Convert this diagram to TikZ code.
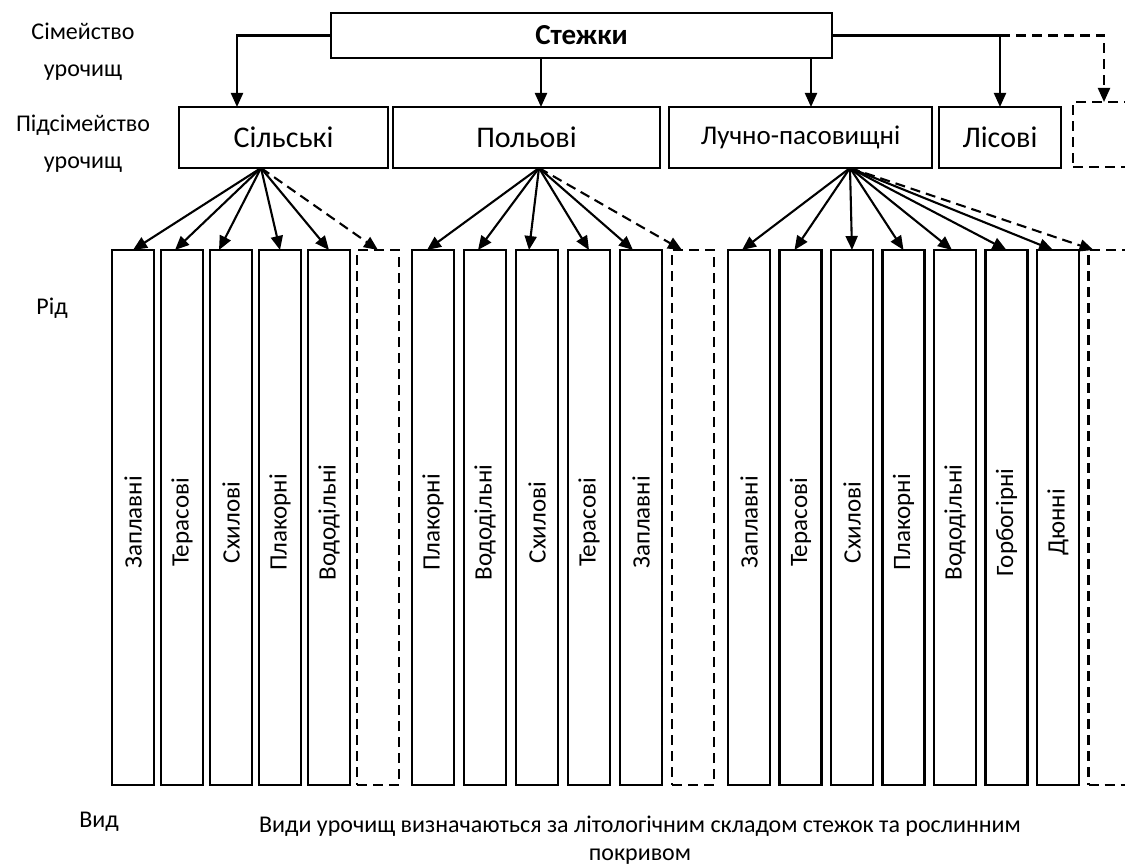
\documentclass[tikz,border=0pt]{standalone}
\usepackage{fontspec}
\setmainfont{Carlito}
\usetikzlibrary{arrows.meta,positioning}

\begin{document}
\begin{tikzpicture}[
                        x=1pt, y=-1pt,
                        ->,
                        >={Triangle[length=14pt,width=12pt]},
                        line width=2.1pt,
                        box/.style={draw, rectangle, inner sep=0pt, outer sep=0pt},
                        grp/.style={box, minimum height=61pt, font=\fontsize{30}{30}\selectfont},
                        kind/.style={box, minimum width=42pt, minimum height=535pt},
                        tag/.style={label={[yshift=-5pt, rotate=90, font=\fontsize{25}{25}\selectfont]center:#1}},
                        gap/.style={dash pattern=on 10pt off 6pt},
                        lbl/.style={font=\fontsize{24}{37}\selectfont, align=center}
                    ]
                    \useasboundingbox (0,0) rectangle (1125,867);

                    % levels
                    \node[lbl] (famTxt) at (83,52)  {Сімейство\\урочищ};
                    \node[lbl] (subTxt) at (83,144) {Підсімейство\\урочищ};
                    \node[lbl] (genTxt) at (52,308) {Рід};
                    \node[lbl] (spTxt)  at (99,822) {Вид};

                    % family and subfamilies
                    \node[box, minimum width=501pt, minimum height=45pt,
                          font=\bfseries\fontsize{29}{29}\selectfont] (stezh) at (581.5,35.5) {Стежки};
                    \node[grp, minimum width=209pt]                 (sil)  at (283.5,137.5) {Сільські};
                    \node[grp, minimum width=267pt, right=5pt of sil] (pol) {Польові};
                    \node[grp, minimum width=263pt, right=9pt of pol,
                          font=\fontsize{27}{27}\selectfont]       (luch) {Лучно-пасовищні};
                    \node[grp, minimum width=122pt, right=7pt of luch] (lis) {Лісові};
                    \node[box, gap, minimum width=62pt, minimum height=65pt,
                          anchor=north west]                       (more) at (1073,102) {};

                    % genera
                    \node[kind, tag=Заплавні]                      (z1)  at (133,517.5) {};
                    \node[kind, tag=Терасові,   right=7pt of z1]   (z2)  {};
                    \node[kind, tag=Схилові,    right=7pt of z2]   (z3)  {};
                    \node[kind, tag=Плакорні,   right=7pt of z3]   (z4)  {};
                    \node[kind, tag=Вододільні, right=7pt of z4]   (z5)  {};
                    \node[kind, gap,            right=7pt of z5]   (z6)  {};

                    \node[kind, tag=Плакорні]                      (z7)  at (433,517.5) {};
                    \node[kind, tag=Вододільні, right=10pt of z7]  (z8)  {};
                    \node[kind, tag=Схилові,    right=10pt of z8]  (z9)  {};
                    \node[kind, tag=Терасові,   right=10pt of z9]  (z10) {};
                    \node[kind, tag=Заплавні,   right=10pt of z10] (z11) {};
                    \node[kind, gap,            right=10pt of z11] (z12) {};

                    \node[kind, tag=Заплавні]                      (z13) at (749,517.5) {};
                    \node[kind, tag=Терасові,   right=9.5pt of z13] (z14) {};
                    \node[kind, tag=Схилові,    right=9.5pt of z14] (z15) {};
                    \node[kind, tag=Плакорні,   right=9.5pt of z15] (z16) {};
                    \node[kind, tag=Вододільні, right=9.5pt of z16] (z17) {};
                    \node[kind, tag=Горбогірні, right=9.5pt of z17] (z18) {};
                    \node[kind, tag=Дюнні,      right=9.5pt of z18] (z19) {};
                    \node[kind, gap,            right=9.5pt of z19] (z20) {};

                    \node[lbl, font=\fontsize{24}{28}\selectfont] (note) at (640,840)
                        {Види урочищ визначаються за літологічним складом стежок та рослинним\\покривом};

                    % family -> subfamilies
                    \coordinate (polIn)  at ([xshift=14.5pt]pol.north);
                    \coordinate (luchIn) at ([xshift=10.5pt]luch.north);
                    \draw (stezh.west) -| ([xshift=-46.5pt]sil.north);
                    \draw (stezh.south -| polIn) -- (polIn);
                    \draw (stezh.south -| luchIn) -- (luchIn);
                    \draw (stezh.east) -| (lis.north);
                    \draw[gap] (stezh.east -| lis.north) -| (more.north);

                    % subfamilies -> genera
                    \coordinate (silOut)  at ([xshift=-22.5pt]sil.south);
                    \coordinate (polOut)  at ([xshift=12.5pt]pol.south);
                    \coordinate (luchOut) at ([xshift=49.5pt]luch.south);

                    \path
                    (silOut) edge                         (z1.north)
                    (silOut) edge       ([xshift=-7pt]z2.north)
                    (silOut) edge       ([xshift=-12pt]z3.north)
                    (silOut) edge                         (z4.north)
                    (silOut) edge                         (z5.north)
                    (silOut) edge [gap]                   (z6.north)
                    (polOut) edge       ([xshift=-6pt]z7.north)
                    (polOut) edge       ([xshift=-7pt]z8.north)
                    (polOut) edge       ([xshift=-8pt]z9.north)
                    (polOut) edge                         (z10.north)
                    (polOut) edge       ([xshift=-8pt]z11.north)
                    (polOut) edge [gap] ([xshift=-11pt]z12.north)
                    (luchOut) edge      ([xshift=-7pt]z13.north)
                    (luchOut) edge      ([xshift=-6pt]z14.north)
                    (luchOut) edge                        (z15.north)
                    (luchOut) edge                        (z16.north)
                    (luchOut) edge      ([xshift=-3pt]z17.north)
                    (luchOut) edge                        (z18.north)
                    (luchOut) edge      ([xshift=-5pt]z19.north)
                    (luchOut) edge [gap] ([xshift=-16pt]z20.north) ;
                \end{tikzpicture}
\end{document}
